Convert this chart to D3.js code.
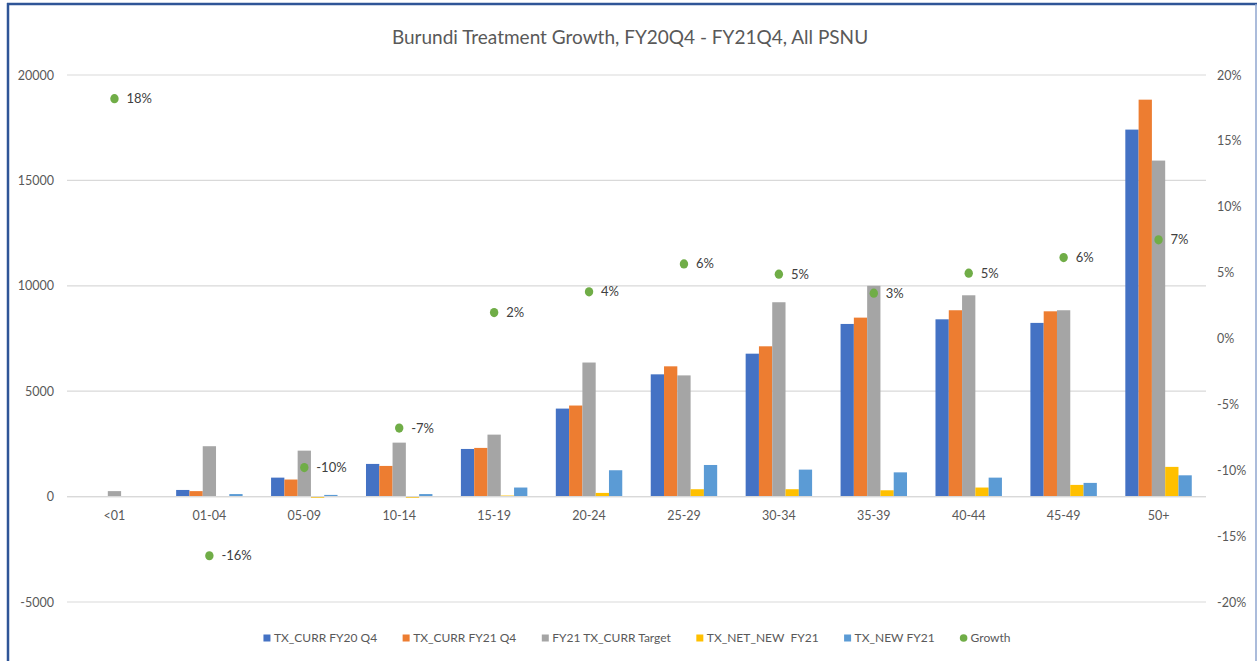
<!DOCTYPE html>
<html>
<head>
<meta charset="utf-8">
<script src="https://cdn.jsdelivr.net/npm/d3@7"></script>
<style>
  html, body { margin: 0; padding: 0; background: #fff; }
  svg { display: block; font-family: Lato, "Liberation Sans", sans-serif; }
</style>
</head>
<body>
<svg id="chart" width="1258" height="661"></svg>
<script>
const categories = ["<01","01-04","05-09","10-14","15-19","20-24","25-29","30-34","35-39","40-44","45-49","50+"];
const seriesNames = ["TX_CURR FY20 Q4","TX_CURR FY21 Q4","FY21 TX_CURR Target","TX_NET_NEW  FY21","TX_NEW FY21"];
const txCurrFY20 = [11, 315, 900, 1550, 2260, 4175, 5800, 6780, 8190, 8410, 8240, 17410];
const txCurrFY21 = [13, 260, 810, 1455, 2310, 4320, 6180, 7130, 8490, 8840, 8790, 18830];
const txCurrTarget = [260, 2390, 2180, 2560, 2940, 6360, 5750, 9220, 10000, 9550, 8840, 15940];
const txNetNew = [0, -20, -60, -60, 50, 175, 350, 350, 300, 430, 555, 1410];
const txNew = [10, 120, 80, 120, 430, 1250, 1500, 1280, 1150, 900, 650, 1010];
const growth = [0.182, -0.1649, -0.098, -0.068, 0.0197, 0.0354, 0.0566, 0.0488, 0.0344, 0.0496, 0.0614, 0.0749];
const leftTicks = [-5000, 0, 5000, 10000, 15000, 20000];
const rightTicks = [-0.2, -0.15, -0.1, -0.05, 0, 0.05, 0.1, 0.15, 0.2];
const colors = ["#4472C4", "#ED7D31", "#A5A5A5", "#FFC000", "#5B9BD5"];
const growthColor = "#70AD47";
const titleText = "Burundi Treatment Growth, FY20Q4 - FY21Q4, All PSNU";

const seriesValues = [txCurrFY20, txCurrFY21, txCurrTarget, txNetNew, txNew];

const locale = d3.formatLocale({ decimal: ".", thousands: ",", grouping: [3], currency: ["$", ""], minus: "-" });
const fmtInt = locale.format("d");
const fmtPct = locale.format(".0%");

const svg = d3.select("#chart");
const plot = { left: 67, right: 1206, top: 75, bottom: 602 };
const fontFam = "Lato, 'Liberation Sans', sans-serif";

// frame
svg.append("line").attr("x1", 8).attr("x2", 8).attr("y1", 3).attr("y2", 661)
  .attr("stroke", "#2F5597").attr("stroke-width", 2.5);
svg.append("line").attr("x1", 7).attr("x2", 1257).attr("y1", 4).attr("y2", 4)
  .attr("stroke", "#2F5597").attr("stroke-width", 2.5);
svg.append("line").attr("x1", 1256).attr("x2", 1256).attr("y1", 4).attr("y2", 661)
  .attr("stroke", "#8FA6CF").attr("stroke-width", 1.5);

const x0 = d3.scaleBand().domain(categories).range([plot.left, plot.right]).padding(0);
const groupW = x0.bandwidth() * 0.70;
const x1 = d3.scaleBand().domain(d3.range(seriesNames.length))
  .range([(x0.bandwidth() - groupW) / 2, (x0.bandwidth() + groupW) / 2]).padding(0);
const yL = d3.scaleLinear().domain([-5000, 20000]).range([plot.bottom, plot.top]);
const yR = d3.scaleLinear().domain([-0.2, 0.2]).range([plot.bottom, plot.top]);

// gridlines
svg.append("g").selectAll("line").data(leftTicks).join("line")
  .attr("x1", plot.left).attr("x2", plot.right)
  .attr("y1", d => yL(d)).attr("y2", d => yL(d))
  .attr("stroke", "#D9D9D9").attr("stroke-width", 1.2);

// left axis
const leftAxis = d3.axisLeft(yL).tickValues(leftTicks).tickSize(0).tickPadding(0).tickFormat(fmtInt);
const gL = svg.append("g").attr("transform", "translate(54,0)").call(leftAxis);
gL.select(".domain").remove();
gL.selectAll("text").attr("fill", "#595959").style("font-size", "12.5px").style("font-family", fontFam);

// right axis
const rightAxis = d3.axisRight(yR).tickValues(rightTicks).tickSize(0).tickPadding(0).tickFormat(fmtPct);
const gR = svg.append("g").attr("transform", "translate(1217,0)").call(rightAxis);
gR.select(".domain").remove();
gR.selectAll("text").attr("fill", "#595959").style("font-size", "12.5px").style("font-family", fontFam);

// category labels
const xAxis = d3.axisBottom(x0).tickSize(0).tickPadding(0);
const gX = svg.append("g").attr("transform", "translate(0,511)").call(xAxis);
gX.select(".domain").remove();
gX.selectAll("text").attr("fill", "#595959").style("font-size", "12.5px").style("font-family", fontFam);

// bars
const barData = [];
categories.forEach((c, i) => {
  seriesValues.forEach((vals, s) => barData.push({ c, s, v: vals[i] }));
});
svg.append("g").selectAll("rect").data(barData).join("rect")
  .attr("x", d => x0(d.c) + x1(d.s))
  .attr("width", x1.bandwidth())
  .attr("y", d => Math.min(yL(d.v), yL(0)))
  .attr("height", d => Math.abs(yL(d.v) - yL(0)))
  .attr("fill", d => colors[d.s]);

// zero line over bars
svg.append("line").attr("x1", plot.left).attr("x2", plot.right)
  .attr("y1", yL(0)).attr("y2", yL(0)).attr("stroke", "#D9D9D9").attr("stroke-width", 1.2);

// growth points
const gG = svg.append("g");
const growthData = categories.map((c, i) => ({ c, g: growth[i] }));
gG.selectAll("ellipse").data(growthData).join("ellipse")
  .attr("cx", d => x0(d.c) + x0.bandwidth() / 2)
  .attr("cy", d => yR(d.g))
  .attr("rx", 4.2).attr("ry", 4.6)
  .attr("fill", growthColor);
gG.selectAll("text").data(growthData).join("text")
  .attr("x", d => x0(d.c) + x0.bandwidth() / 2 + 12)
  .attr("y", d => yR(d.g))
  .attr("dy", "0.35em")
  .attr("fill", "#404040")
  .style("font-size", "13px")
  .text(d => fmtPct(d.g));

// title
svg.append("text").attr("x", 630).attr("y", 44).attr("text-anchor", "middle")
  .attr("fill", "#595959").style("font-size", "19px").text(titleText);

// legend
const legendItems = seriesNames.map((n, i) => ({ n, color: colors[i], dot: false }))
  .concat([{ n: "Growth", color: growthColor, dot: true }]);
const gLeg = svg.append("g");
const items = gLeg.selectAll("g").data(legendItems).join("g");
items.append("text").attr("x", 10.5).attr("y", 0).attr("dy", "0.35em")
  .attr("fill", "#595959").style("font-size", "12px").style("white-space", "pre")
  .attr("xml:space", "preserve")
  .text(d => d.n);
items.each(function(d) {
  const g = d3.select(this);
  if (d.dot) g.append("circle").attr("cx", 3.5).attr("cy", 0).attr("r", 3.8).attr("fill", d.color);
  else g.append("rect").attr("x", 0).attr("y", -3.5).attr("width", 7).attr("height", 7).attr("fill", d.color);
});
let widths = [];
items.each(function() { widths.push(10.5 + d3.select(this).select("text").node().getComputedTextLength()); });
const gap = 25.5;
const total = d3.sum(widths) + gap * (widths.length - 1);
let cx = 637 - total / 2;
items.each(function(d, i) {
  d3.select(this).attr("transform", `translate(${cx},638)`);
  cx += widths[i] + gap;
});
</script>
</body>
</html>
